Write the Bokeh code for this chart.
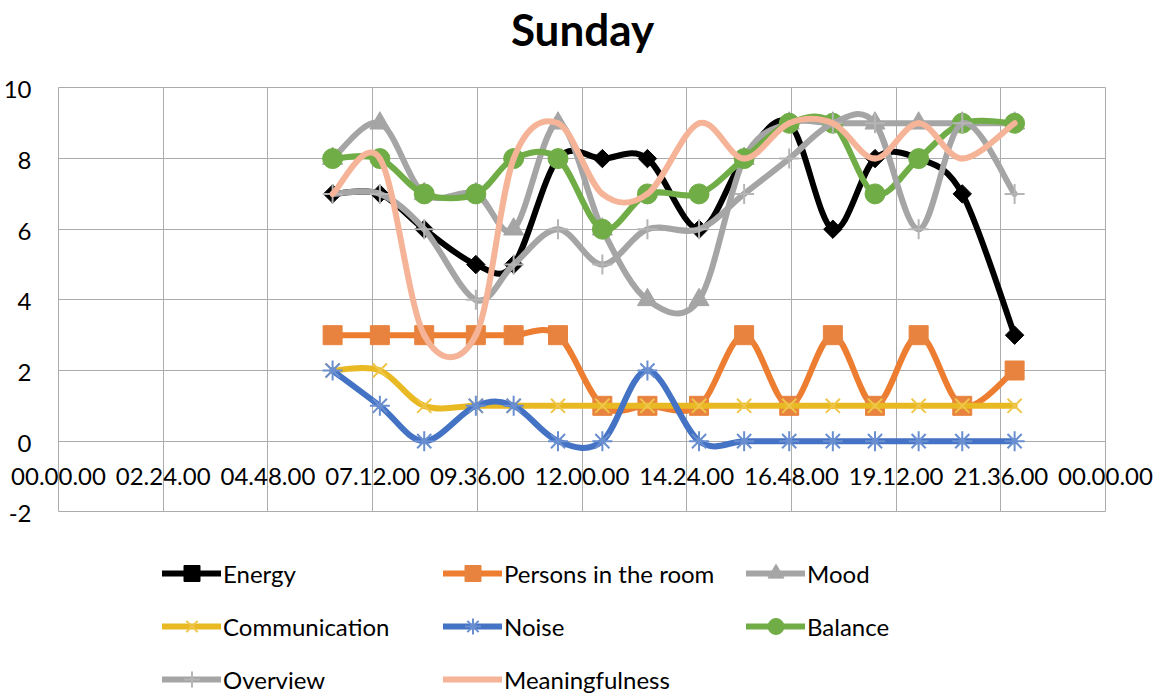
import math
from bokeh.plotting import figure
from bokeh.models import FixedTicker, Legend, LegendItem, ColumnDataSource, Grid
from bokeh.core.properties import value
from bokeh.embed import file_html
from bokeh.resources import INLINE

# ---- data ----
times = ["06:17", "07:22", "08:23", "09:34", "10:26", "11:27", "12:28", "13:30",
         "14:41", "15:43", "16:45", "17:45", "18:43", "19:43", "20:43", "21:55"]
tick_labels = ["00.00.00", "02.24.00", "04.48.00", "07.12.00", "09.36.00", "12.00.00",
               "14.24.00", "16.48.00", "19.12.00", "21.36.00", "00.00.00"]
y_ticks = [-2, 0, 2, 4, 6, 8, 10]
y_tick_labels = ["-2", "0", "2", "4", "6", "8", "10"]

energy = [7, 7, 6, 5, 5, 8, 8, 8, 6, 8, 9, 6, 8, 8, 7, 3]
persons = [3, 3, 3, 3, 3, 3, 1, 1, 1, 3, 1, 3, 1, 3, 1, 2]
mood = [8, 9, 7, 7, 6, 9, 6, 4, 4, 8, 9, 9, 9, 9, 9, 9]
communication = [2, 2, 1, 1, 1, 1, 1, 1, 1, 1, 1, 1, 1, 1, 1, 1]
noise = [2, 1, 0, 1, 1, 0, 0, 2, 0, 0, 0, 0, 0, 0, 0, 0]
balance = [8, 8, 7, 7, 8, 8, 6, 7, 7, 8, 9, 9, 7, 8, 9, 9]
overview = [7, 7, 6, 4, 5, 6, 5, 6, 6, 7, 8, 9, 9, 6, 9, 7]
meaningfulness = [7, 8, 3, 3, 8, 9, 7, 7, 9, 8, 9, 9, 8, 9, 8, 9]


def to_minutes(t):
    h, m = t.split(":")
    return int(h) * 60 + int(m)


x = [to_minutes(t) for t in times]
tick_pos = [i * 144 for i in range(len(tick_labels))]
day_min, day_max = tick_pos[0], tick_pos[-1]
val_min, val_max = y_ticks[0], y_ticks[-1]


def smooth_segments(xs, ys):
    """Cubic Bezier control points (Catmull-Rom style smoothed line)."""
    n = len(xs)
    d = dict(x0=[], y0=[], x1=[], y1=[], cx0=[], cy0=[], cx1=[], cy1=[])
    for i in range(n - 1):
        a = max(i - 1, 0)
        b = min(i + 2, n - 1)
        d["x0"].append(xs[i]); d["y0"].append(ys[i])
        d["x1"].append(xs[i + 1]); d["y1"].append(ys[i + 1])
        d["cx0"].append(xs[i] + (xs[i + 1] - xs[a]) / 6.0)
        d["cy0"].append(ys[i] + (ys[i + 1] - ys[a]) / 6.0)
        d["cx1"].append(xs[i + 1] - (xs[b] - xs[i]) / 6.0)
        d["cy1"].append(ys[i + 1] - (ys[b] - ys[i]) / 6.0)
    return d


FONT = "Lato"
GRID = "#ABABAB"
W, H = 1164, 695
FRAME_TOP = 53          # title panel height (frame starts right under it)

# day axis 0..1440 min at px 58..1105 ; value axis 10..-2 at px 86.5..511
kx = 1047 / 1440.0
ky = (511 - 86.5) / 12.0
x_start = -58 / kx
x_end = (W - 58) / kx
y_end = 10 + (86.5 - FRAME_TOP) / ky
y_start = -2 - (H - 511) / ky

p = figure(width=W, height=H, x_range=(x_start, x_end), y_range=(y_start, y_end),
           output_backend="svg", toolbar_location=None, y_axis_location=None,
           min_border_left=0, min_border_right=0, min_border_top=0,
           min_border_bottom=0)

p.title.text = "Sunday"
p.title.align = "center"
p.title.text_font = FONT
p.title.text_font_style = "bold"
p.title.text_font_size = "44px"
p.title.text_color = "#000000"
p.title.standoff = 0

p.outline_line_color = None
p.background_fill_color = "white"

p.xaxis.ticker = FixedTicker(ticks=tick_pos)
p.xaxis.major_label_overrides = {tp: lab for tp, lab in zip(tick_pos, tick_labels)}
p.xaxis.fixed_location = 0
p.xaxis.axis_line_color = None
p.xaxis.major_tick_line_color = None
p.xaxis.minor_tick_line_color = None
p.xaxis.major_tick_out = 0
p.xaxis.major_tick_in = 0
p.xaxis.major_label_standoff = 27
p.xaxis.major_label_text_font = FONT
p.xaxis.major_label_text_font_size = "24px"
p.xaxis.major_label_text_color = "#000000"

# ---- grid: limited to the plot area (0..24h, -2..10) ----
if "cross_bounds" in Grid.properties():
    p.xgrid.ticker = FixedTicker(ticks=tick_pos)
    p.xgrid.bounds = (day_min, day_max)
    p.xgrid.cross_bounds = (val_min, val_max)
    p.xgrid.grid_line_color = GRID
    p.ygrid.ticker = FixedTicker(ticks=y_ticks)
    p.ygrid.bounds = (val_min, val_max)
    p.ygrid.cross_bounds = (day_min, day_max)
    p.ygrid.grid_line_color = GRID
else:
    p.xgrid.visible = False
    p.ygrid.visible = False
    p.segment(x0=tick_pos, y0=[val_min] * len(tick_pos), x1=tick_pos,
              y1=[val_max] * len(tick_pos), line_color=GRID, line_width=1)
    p.segment(x0=[day_min] * len(y_ticks), y0=y_ticks, x1=[day_max] * len(y_ticks),
              y1=y_ticks, line_color=GRID, line_width=1)

p.text(x=[0] * len(y_ticks), y=y_ticks, text=y_tick_labels, x_offset=-27, y_offset=2,
       text_align="right", text_baseline="middle", text_font=value(FONT),
       text_font_size="24px", text_color="#000000")

series = [
    ("Energy", energy, "#000000", dict(marker="square", size=13, angle=math.pi / 4,
                                       fill_color="#000000", line_color="#000000")),
    ("Persons in the room", persons, "#ED7D31", dict(marker="square", size=19,
                                                     fill_color="#E8833F", line_color="#E8833F")),
    ("Mood", mood, "#A5A5A5", dict(marker="triangle", size=20,
                                   fill_color="#A5A5A5", line_color="#A5A5A5")),
    ("Communication", communication, "#E8B923", dict(marker="x", size=20, line_width=2,
                                                    line_color="#EFC64A")),
    ("Noise", noise, "#4472C4", dict(marker="asterisk", size=20, line_width=2,
                                     line_color="#6A8FD0")),
    ("Balance", balance, "#70AD47", dict(marker="circle", size=20,
                                         fill_color="#70AD47", line_color="#70AD47")),
    ("Overview", overview, "#A5A5A5", dict(marker="cross", size=20, line_width=2,
                                           line_color="#B5B5B5")),
    ("Meaningfulness", meaningfulness, "#F5B497", None),
]

legend_items = {}
for name, ys, color, mk in series:
    seg = ColumnDataSource(smooth_segments(x, ys))
    r_line = p.bezier(x0="x0", y0="y0", x1="x1", y1="y1", cx0="cx0", cy0="cy0",
                      cx1="cx1", cy1="cy1", source=seg, line_color=color,
                      line_width=6, line_cap="round")
    rs = [r_line]
    if mk is not None:
        src = ColumnDataSource(dict(x=x, y=ys))
        rs.append(p.scatter(x="x", y="y", source=src, **mk))
    legend_items[name] = LegendItem(label=name, renderers=rs)

columns_spec = [
    (["Energy", "Communication", "Overview"], 162),
    (["Persons in the room", "Noise", "Meaningfulness"], 443),
    (["Mood", "Balance"], 746),
]
GH = 40
SP = 13
for names, lx in columns_spec:
    n = len(names)
    h = GH * n + SP * (n - 1)
    top = 573 - GH / 2.0
    bottom = top + h
    vy = H - bottom
    lg = Legend(items=[legend_items[nm] for nm in names], location=(lx, vy),
                orientation="vertical", glyph_width=59, glyph_height=GH,
                label_standoff=2, spacing=SP, padding=0, margin=0,
                label_text_font=FONT, label_text_font_size="24px",
                label_text_color="#000000", border_line_color=None,
                background_fill_alpha=0)
    p.add_layout(lg)

open("out.html", "w").write(file_html(p, INLINE))
